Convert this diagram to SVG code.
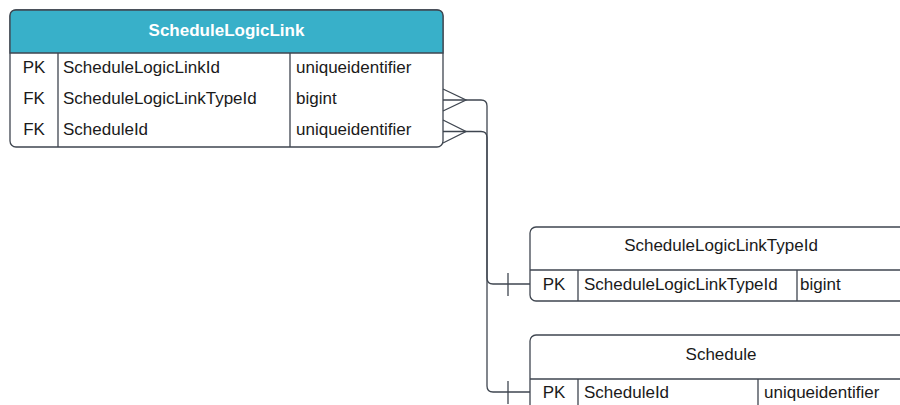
<svg xmlns="http://www.w3.org/2000/svg" width="900" height="405" viewBox="0 0 900 405">
<style>
.box{fill:#fff;stroke:#3f4650;stroke-width:1.3}
.ln{fill:none;stroke:#3f4650;stroke-width:1.3}
.t{font-family:"Liberation Sans",Arial,sans-serif;font-size:17px;fill:#1a1a1a}
.c{text-anchor:middle}
.h{font-family:"Liberation Sans",Arial,sans-serif;font-size:17px;font-weight:bold;fill:#fff;text-anchor:middle}
</style>
<rect width="900" height="405" fill="#fff"/>
<g id="ScheduleLogicLink">
<rect class="box" x="10" y="10" width="433" height="137" rx="6"/>
<path d="M10,53 V16 Q10,10 16,10 H437 Q443,10 443,16 V53 Z" fill="#38b0c9" stroke="#3f4650" stroke-width="1.3"/>
<path class="ln" d="M58,53 V147 M290,53 V147"/>
<text class="h" x="226.5" y="36">ScheduleLogicLink</text>
<text class="t c" x="34" y="73">PK</text>
<text class="t" x="63" y="73">ScheduleLogicLinkId</text>
<text class="t" x="296" y="73">uniqueidentifier</text>
<text class="t c" x="34" y="104">FK</text>
<text class="t" x="63" y="104">ScheduleLogicLinkTypeId</text>
<text class="t" x="296" y="104">bigint</text>
<text class="t c" x="34" y="135">FK</text>
<text class="t" x="63" y="135">ScheduleId</text>
<text class="t" x="296" y="135">uniqueidentifier</text>
</g>
<g id="ScheduleLogicLinkTypeId">
<rect class="box" x="530" y="227" width="382" height="74" rx="6"/>
<path class="ln" d="M530,270 H912 M578,270 V301 M797,270 V301"/>
<text class="t c" x="721" y="251">ScheduleLogicLinkTypeId</text>
<text class="t c" x="554" y="290">PK</text>
<text class="t" x="584" y="290">ScheduleLogicLinkTypeId</text>
<text class="t" x="800" y="290">bigint</text>
</g>
<g id="Schedule">
<rect class="box" x="530" y="335" width="382" height="100" rx="6"/>
<path class="ln" d="M530,379 H912 M578,379 V405 M758,379 V405"/>
<text class="t c" x="721" y="360">Schedule</text>
<text class="t c" x="554" y="398">PK</text>
<text class="t" x="584" y="398">ScheduleId</text>
<text class="t" x="764" y="398">uniqueidentifier</text>
</g>
<g id="connectors">
<path class="ln" d="M443,100 H481 Q487,100 487,106 V278 Q487,284 493,284 H530"/>
<path class="ln" d="M443,89 L466,100 L443,111"/>
<path class="ln" d="M508,273 V296"/>
<path class="ln" d="M443,131.5 H481 Q487,131.5 487,137.5 V386 Q487,392 493,392 H530"/>
<path class="ln" d="M443,120 L466,131.5 L443,143"/>
<path class="ln" d="M508,381 V404"/>
</g>
</svg>
